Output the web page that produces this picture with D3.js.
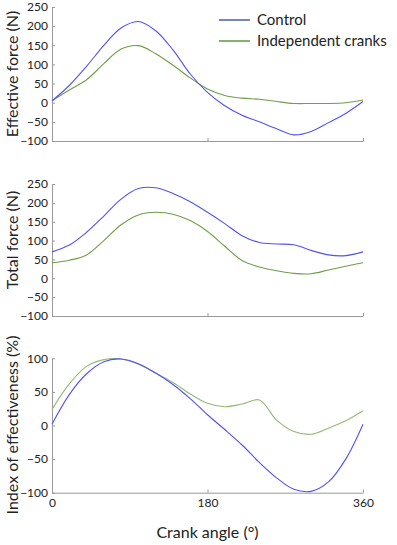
<!DOCTYPE html>
<html>
<head>
<meta charset="utf-8">
<script src="https://cdn.jsdelivr.net/npm/d3@7"></script>
<style>
  body { margin: 0; background: #fff; }
  svg { display: block; font-family: Lato, "Open Sans", sans-serif; }
  .axis path, .axis line { stroke: #9a9a9a; }
  .axis text { fill: #222; font-size: 12px; font-family: Lato, sans-serif; }
</style>
</head>
<body>
<svg id="chart" width="397" height="545"></svg>
<script>
// crank angle samples (deg)
const angles = [0, 20, 40, 60, 80, 100, 120, 140, 160, 180, 200, 220, 240, 260, 280, 300, 320, 340, 360];

// effective force (N)
const effControl = [5, 45, 95, 150, 195, 212, 188, 138, 75, 27, -8, -33, -50, -68, -84, -75, -52, -28, 3];
const effIndep   = [5, 33, 60, 102, 140, 149, 128, 98, 65, 36, 19, 12, 9, 3, -2, -2, -2, 0, 7];

// total force (N)
const totControl = [70, 88, 122, 165, 210, 238, 240, 225, 203, 175, 145, 113, 95, 91, 89, 74, 62, 60, 70];
const totIndep   = [41, 48, 62, 100, 142, 168, 175, 170, 153, 124, 85, 47, 30, 20, 13, 12, 22, 32, 41];

// index of effectiveness (%)
const ieControl = [2, 46, 77, 95, 99, 92, 78, 61, 40, 16, -6, -29, -55, -78, -95, -98, -84, -50, 2];
const ieIndep   = [24, 62, 88, 98, 99, 91, 78, 64, 47, 33, 28, 32, 38, 8, -9, -13, -4, 7, 22];

const forceTicks = [-100, -50, 0, 50, 100, 150, 200, 250];
const ieTicks = [-100, -50, 0, 50, 100];
const xTicks = [0, 180, 360];

const seriesNames = ['Control', 'Independent cranks'];
const COLORS = { control: '#5252f5', indep: '#6f9e45', indepLight: '#93ba75' };

const svg = d3.select('#chart');
const x = d3.scaleLinear().domain([0, 360]).range([52, 363]);

function drawPanel(opts) {
  const y = d3.scaleLinear().domain(opts.domain).range(opts.range);

  svg.append('g').attr('class', 'axis')
    .attr('transform', `translate(${x(0)},0)`)
    .call(d3.axisLeft(y).tickValues(opts.ticks).tickSize(-3).tickPadding(4).tickSizeOuter(0));

  const xa = svg.append('g').attr('class', 'axis')
    .attr('transform', `translate(0,${opts.range[0]})`)
    .call(d3.axisBottom(x).tickValues(xTicks).tickSize(-3).tickPadding(6).tickSizeOuter(0));
  xa.selectAll('.tick').filter(d => d === 0).select('line').remove();
  if (!opts.xLabels) xa.selectAll('.tick text').remove();

  const line = d3.line()
    .x((d, i) => x(angles[i]))
    .y(d => y(d))
    .curve(d3.curveCatmullRom.alpha(0.5));

  svg.append('path').datum(opts.indep)
    .attr('fill', 'none').attr('stroke', opts.indepColor).attr('stroke-width', 1.1)
    .attr('d', line);
  svg.append('path').datum(opts.control)
    .attr('fill', 'none').attr('stroke', COLORS.control).attr('stroke-width', 1.1)
    .attr('d', line);

  svg.append('text')
    .attr('transform', `translate(18,${opts.labelY}) rotate(-90)`)
    .attr('text-anchor', 'middle')
    .attr('font-size', 16)
    .attr('fill', '#222')
    .text(opts.label);
}

drawPanel({ domain: [-100, 250], range: [141, 7], ticks: forceTicks,
  control: effControl, indep: effIndep, indepColor: COLORS.indep,
  label: 'Effective force (N)', labelY: 74 });

drawPanel({ domain: [-100, 250], range: [316, 184], ticks: forceTicks,
  control: totControl, indep: totIndep, indepColor: COLORS.indep,
  label: 'Total force (N)', labelY: 240 });

drawPanel({ domain: [-100, 100], range: [492.7, 358.3], ticks: ieTicks,
  control: ieControl, indep: ieIndep, indepColor: COLORS.indepLight,
  label: 'Index of effectiveness (%)', labelY: 425, xLabels: true });

svg.append('text')
  .attr('x', x(180)).attr('y', 538)
  .attr('text-anchor', 'middle')
  .attr('font-size', 16).attr('fill', '#222')
  .text('Crank angle (°)');

// legend
const legendColors = ['#4561a8', '#5c9a3c'];
const lg = svg.append('g');
seriesNames.forEach((name, i) => {
  const yy = 20 + i * 21;
  lg.append('line').attr('x1', 219).attr('x2', 250).attr('y1', yy).attr('y2', yy)
    .attr('stroke', legendColors[i]).attr('stroke-width', 1.5);
  lg.append('text').attr('x', 257).attr('y', yy + 5)
    .attr('font-size', 15).attr('fill', '#222').text(name);
});
</script>
</body>
</html>
